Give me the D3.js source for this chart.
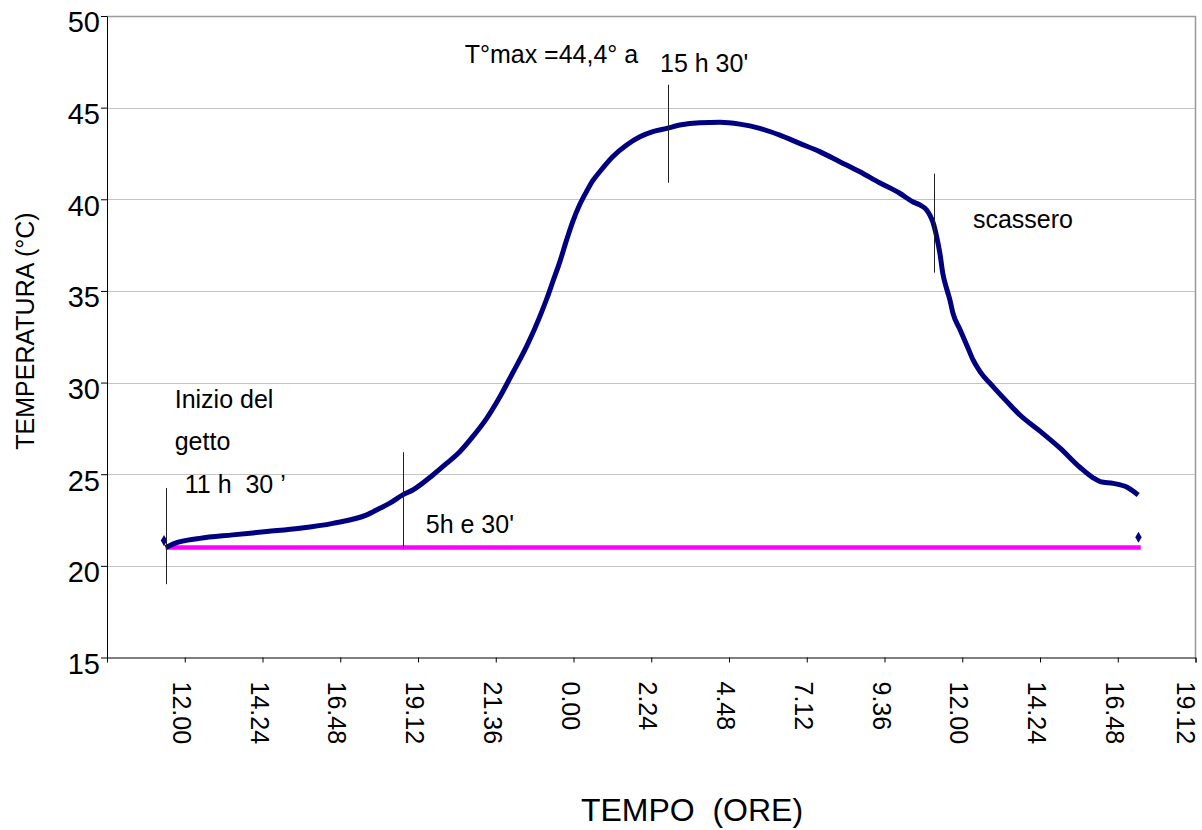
<!DOCTYPE html>
<html>
<head>
<meta charset="utf-8">
<script src="https://cdn.jsdelivr.net/npm/d3@7/dist/d3.min.js"></script>
<style>
    body { margin: 0; background: #fff; }
    svg text { font-family: "Liberation Sans", Arial, sans-serif; fill: #000; }
</style>
</head>
<body>
<script>
// ore dall'inizio del primo giorno (24 = mezzanotte)
const ore = [11.41, 11.69, 12.46, 13.48, 14.53, 15.55, 16.57, 17.62, 18.02, 18.33,
    18.73, 19.04, 19.66, 20.09, 20.49, 20.89, 21.32, 21.72, 22.13, 22.56,
    22.96, 23.18, 23.36, 23.58, 23.79, 23.98, 24.19, 24.41, 24.59, 24.81,
    25.21, 25.64, 26.05, 26.45, 26.88, 27.28, 27.90, 28.52, 29.13, 29.75,
    30.37, 30.98, 31.60, 32.22, 32.84, 33.45, 34.07, 34.47, 34.69, 34.90,
    35.00, 35.09, 35.21, 35.31, 35.40, 35.53, 35.62, 35.71, 35.93, 36.15,
    36.33, 36.55, 36.95, 37.38, 37.78, 38.40, 39.02, 39.63, 40.04, 40.26,
    40.66, 41.09, 41.43];
const temperatura = [21.0, 21.23, 21.5, 21.69, 21.87, 22.05, 22.32, 22.78, 23.14, 23.42,
    23.87, 24.14, 24.96, 25.6, 26.23, 27.05, 28.05, 29.2, 30.55, 32.0,
    33.6, 34.6, 35.5, 36.6, 37.8, 38.8, 39.7, 40.45, 41.0, 41.5,
    42.32, 42.96, 43.41, 43.69, 43.87, 44.05, 44.18, 44.2, 44.1, 43.87,
    43.5, 43.05, 42.6, 42.05, 41.5, 40.9, 40.33, 39.87, 39.69, 39.42,
    39.14, 38.78, 37.96, 37.05, 35.96, 35.05, 34.5, 33.8, 32.9, 32.0,
    31.25, 30.6, 29.78, 28.96, 28.23, 27.35, 26.42, 25.38, 24.8, 24.6,
    24.5, 24.29, 23.87];

// punti isolati
const puntiOre = [11.36, 41.44];
const puntiTemp = [21.38, 21.56];

// temperatura ambiente
const ambienteOre = [11.41, 41.51];
const ambienteTemp = [21.0, 21.0];

// assi
const xTickValues = [12, 14.4, 16.8, 19.2, 21.6, 24, 26.4, 28.8, 31.2, 33.6, 36, 38.4, 40.8, 43.2];
const xTickLabels = ["12.00", "14.24", "16.48", "19.12", "21.36", "0.00", "2.24", "4.48",
    "7.12", "9.36", "12.00", "14.24", "16.48", "19.12"];
const yTickValues = [15, 20, 25, 30, 35, 40, 45, 50];

// linee verticali di riferimento
const segniOre = [11.41, 18.73, 26.91, 35.12];
const segniDa = [19.0, 20.9, 40.9, 36.0];
const segniA = [24.25, 26.2, 46.25, 41.4];

// note
const noteTesti = ["T°max =44,4° a", "15 h 30'", "Inizio del", "getto", "11 h  30 \u2019", "5h e 30'", "scassero"];
const noteOre = [20.64, 26.67, 11.69, 11.69, 12.0, 19.44, 36.33];
const noteTemp = [47.44, 46.94, 28.61, 26.32, 23.98, 21.8, 38.43];

let width = 1202;
let height = 830;
let marginTop = 16;
let marginLeft = 107;
let chartWidth = 1088.5;
let chartHeight = 641.5;

draw();

function draw() {
    const svg = d3.select("body")
        .append("svg")
        .attr("width", width)
        .attr("height", height);

    const g = svg.append("g")
        .attr("transform", "translate(" + marginLeft + "," + marginTop + ")");

    const xScale = d3.scaleLinear()
        .domain([9.6, 43.2])
        .range([0, chartWidth]);
    const yScale = d3.scaleLinear()
        .domain([15, 50])
        .range([chartHeight, 0]);

    // griglia
    g.selectAll(".grid")
        .data(yTickValues.filter(v => v > 15 && v < 50))
        .join("line")
        .attr("x1", 0).attr("x2", chartWidth)
        .attr("y1", d => Math.round(yScale(d)) + 0.5)
        .attr("y2", d => Math.round(yScale(d)) + 0.5)
        .attr("stroke", "#c4c4c4")
        .attr("stroke-width", 1.2);

    // bordo superiore e destro
    g.append("path")
        .attr("d", "M0," + (yScale(50) + 0.5) + "H" + xScale(43.2) + "V" + yScale(15))
        .attr("fill", "none")
        .attr("stroke", "#9a9a9a")
        .attr("stroke-width", 1.5);

    // asse y
    const yAxis = g.append("g")
        .call(d3.axisLeft(yScale).tickValues(yTickValues).tickSize(6).tickSizeOuter(0).tickPadding(1));
    yAxis.selectAll("text")
        .attr("font-size", 29)
        .attr("font-family", "Liberation Sans, Arial, sans-serif")
        .attr("dy", "0.55em");
    yAxis.selectAll("line, path").attr("stroke", "#000");

    // asse x
    const xAxis = g.append("g")
        .attr("transform", "translate(0," + chartHeight + ")")
        .call(d3.axisBottom(xScale).tickValues(xTickValues).tickSize(5).tickSizeOuter(5)
            .tickFormat((d, i) => xTickLabels[i]));
    xAxis.selectAll("text")
        .attr("font-size", 25)
        .attr("font-family", "Liberation Sans, Arial, sans-serif")
        .attr("text-anchor", "start")
        .attr("transform", "rotate(90)")
        .attr("x", 24)
        .attr("y", 0)
        .attr("dx", 0)
        .attr("dy", (d, i) => i === xTickValues.length - 1 ? "0.78em" : "0.5em");
    xAxis.selectAll("line, path").attr("stroke", "#000");

    // temperatura ambiente
    const ambiente = ambienteOre.map((o, i) => [o, ambienteTemp[i]]);
    g.append("path")
        .datum(ambiente)
        .attr("fill", "none")
        .attr("stroke", "#ff00ff")
        .attr("stroke-width", 4.5)
        .attr("d", d3.line().x(d => xScale(d[0])).y(d => yScale(d[1])));

    // curva di temperatura
    const curva = ore.map((o, i) => [o, temperatura[i]]);
    g.append("path")
        .datum(curva)
        .attr("fill", "none")
        .attr("stroke", "#000080")
        .attr("stroke-width", 5)
        .attr("stroke-linejoin", "round")
        .attr("d", d3.line().curve(d3.curveMonotoneX).x(d => xScale(d[0])).y(d => yScale(d[1])));

    g.selectAll(".punto")
        .data(puntiOre.map((o, i) => [o, puntiTemp[i]]))
        .join("path")
        .attr("transform", d => "translate(" + xScale(d[0]) + "," + yScale(d[1]) + ")")
        .attr("d", d3.symbol().type(d3.symbolDiamond).size(36))
        .attr("fill", "#000080");

    // linee di riferimento
    g.selectAll(".segno")
        .data(segniOre)
        .join("line")
        .attr("x1", d => Math.round(xScale(d)) + 0.5)
        .attr("x2", d => Math.round(xScale(d)) + 0.5)
        .attr("y1", (d, i) => yScale(segniDa[i]))
        .attr("y2", (d, i) => yScale(segniA[i]))
        .attr("stroke", "#222")
        .attr("stroke-width", 1);

    // note
    g.selectAll(".nota")
        .data(noteTesti)
        .join("text")
        .attr("x", (d, i) => xScale(noteOre[i]))
        .attr("y", (d, i) => yScale(noteTemp[i]))
        .attr("font-size", 25)
        .style("white-space", "pre")
        .text(d => d);

    // titoli assi
    svg.append("text")
        .attr("x", 692)
        .attr("y", 821)
        .attr("text-anchor", "middle")
        .attr("font-size", 32)
        .style("white-space", "pre")
        .text("TEMPO  (ORE)");

    svg.append("text")
        .attr("transform", "translate(34,331) rotate(-90)")
        .attr("text-anchor", "middle")
        .attr("font-size", 25)
        .text("TEMPERATURA (°C)");
}
</script>
</body>
</html>
